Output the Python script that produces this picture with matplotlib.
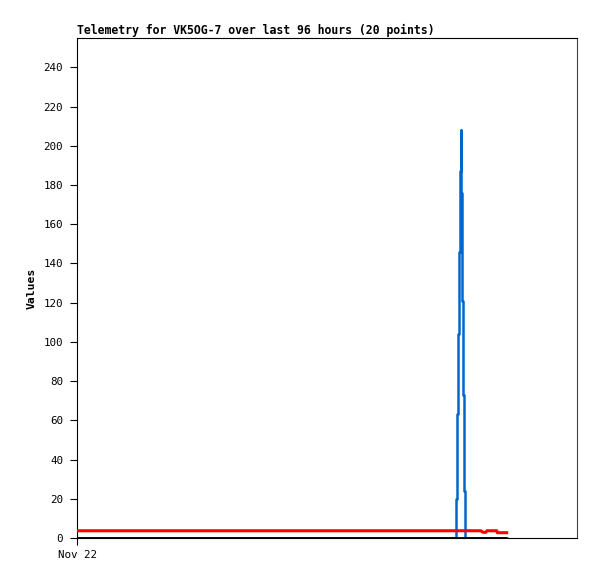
import matplotlib
matplotlib.use("Agg")
import matplotlib.pyplot as plt

# Data (hours since Nov 22 00:00)
blue_t = [0.0, 72.71, 72.90, 73.10, 73.29, 73.48, 73.67, 73.79, 73.92, 74.11, 74.30, 74.44, 82.5]
blue_v = [0, 20, 63, 104, 146, 187, 208, 176, 121, 73, 24, 0, 0]

red_t = [0.0, 77.5, 78.0, 78.5, 78.7, 80.6, 80.7, 82.5]
red_v = [3.7, 3.7, 2.9, 2.9, 3.7, 3.7, 2.7, 2.7]

black_t = [0.0, 82.5]
black_v = [0, 0]

yticks = list(range(0, 241, 20))
xtick_labels = ["Nov 22"]

W, H = 597, 579
fig = plt.figure(figsize=(W / 100, H / 100), dpi=100)
ax = fig.add_axes([77 / W, 1 - 538 / H, 500 / W, 500 / H])

mono = "DejaVu Sans Mono"
ax.plot(blue_t, blue_v, drawstyle="steps-post", color="#0066cc", lw=1.8, zorder=2)
ax.plot(red_t, red_v, color="#ff0000", lw=2.2, zorder=3)
ax.plot(black_t, black_v, color="black", lw=2.0, zorder=4, solid_capstyle="butt")

ax.set_xlim(0, 96)
ax.set_ylim(0, 255)
ax.set_yticks(yticks)
ax.set_yticklabels([str(v) for v in yticks], fontfamily=mono, fontsize=7.8)
ax.set_xticks([0])
ax.set_xticklabels(xtick_labels, fontfamily=mono, fontsize=7.8)
ax.tick_params(axis="y", direction="out", length=5, width=0.8, pad=5)
ax.tick_params(axis="x", direction="out", length=5, width=0.8, pad=4)
for s in ax.spines.values():
    s.set_linewidth(0.8)
    s.set_color("black")
ax.spines["right"].set_color("#444444")

ax.set_ylabel("Values", fontfamily=mono, fontweight="bold", fontsize=8.2, labelpad=5)
fig.text(77 / W, 1 - 34 / H, "Telemetry for VK5OG-7 over last 96 hours (20 points)",
         fontfamily=mono, fontweight="bold", fontsize=8.3, ha="left", va="baseline")

fig.savefig("out.png", dpi=100)
